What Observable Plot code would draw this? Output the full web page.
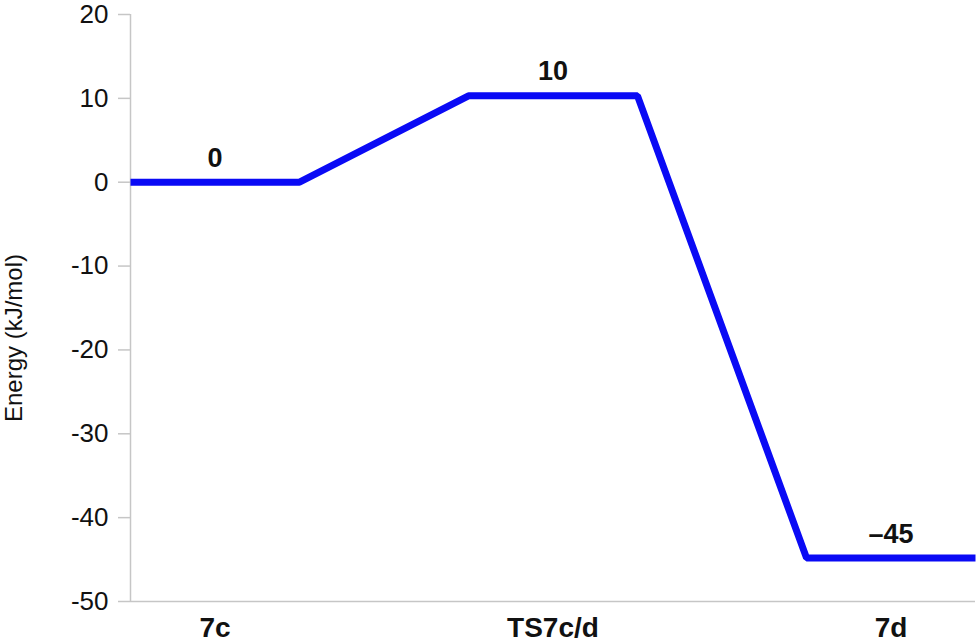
<!DOCTYPE html>
<html>
<head>
<meta charset="utf-8">
<script src="https://cdn.jsdelivr.net/npm/d3@7"></script>
<script src="https://cdn.jsdelivr.net/npm/@observablehq/plot@0.6"></script>
<style>
  html, body { margin: 0; padding: 0; background: #fff; }
  #chart svg { display: block; }
</style>
</head>
<body>
<div id="chart"></div>
<script>
// Data
const stages = ["7c", "TS7c/d", "7d"];
const stageEnergies = [0, 10.3, -44.8];
const energyLabels = ["0", "10", "\u201345"];
const yTicks = [20, 10, 0, -10, -20, -30, -40, -50];
const yLabel = "Energy (kJ/mol)";

// Each stage is a flat level spanning one unit, connected by sloped segments
const levelPoints = [];
stages.forEach((s, i) => {
  levelPoints.push({x: 2 * i, y: stageEnergies[i]});
  levelPoints.push({x: 2 * i + 1, y: stageEnergies[i]});
});
const labelData = stages.map((s, i) => ({x: 2 * i + 0.5, y: stageEnergies[i], label: energyLabels[i], stage: s}));

const axisColor = "#c6c6c6";
const font = "'Liberation Sans', Arial, Helvetica, sans-serif";

const chart = Plot.plot({
  width: 979,
  height: 644,
  marginLeft: 130,
  marginRight: 4,
  marginTop: 14,
  marginBottom: 43,
  style: {fontFamily: font, background: "#fff"},
  x: {domain: [0, 5]},
  y: {domain: [-50, 20]},
  marks: [
    Plot.ruleX([0], {stroke: axisColor, strokeWidth: 1.5}),
    Plot.ruleY([-50], {stroke: axisColor, strokeWidth: 1.5}),
    Plot.axisY({
      ticks: yTicks,
      tickSize: 12,
      tickPadding: 10,
      stroke: axisColor,
      strokeWidth: 1.5,
      tickFormat: d => String(d),
      fontSize: 26,
      fill: "#111",
      label: null
    }),
    Plot.axisX({
      ticks: labelData.map(d => d.x),
      tickFormat: (d, i) => stages[i],
      tickSize: 0,
      tickPadding: 16,
      fontSize: 28,
      fontWeight: "bold",
      fill: "#111",
      label: null
    }),
    Plot.text([yLabel], {
      frameAnchor: "left",
      dx: -116,
      dy: 114,
      rotate: -90,
      fontSize: 24,
      fill: "#111",
      text: d => d
    }),
    Plot.line(levelPoints, {x: "x", y: "y", stroke: "#0a0af5", strokeWidth: 7, strokeLinejoin: "miter", strokeLinecap: "butt"}),
    Plot.text(labelData, {x: "x", y: "y", text: "label", dy: -24, fontSize: 27, fontWeight: "bold", fill: "#111"})
  ]
});
document.getElementById("chart").appendChild(chart);
</script>
</body>
</html>
